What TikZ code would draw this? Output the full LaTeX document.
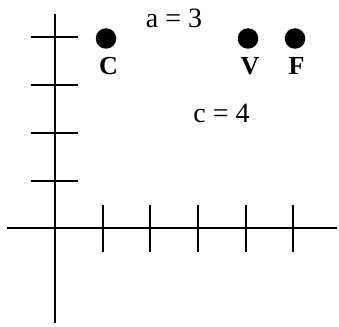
\documentclass[tikz,border=0pt]{standalone}
\usepackage{fontspec}
\setmainfont{Liberation Serif}
\begin{document}
\begin{tikzpicture}[x=1pt,y=-1pt,
  axis/.style={line width=2pt},
  tick/.style={line width=2pt},
  pt/.style={circle,fill=black,inner sep=0pt,minimum size=20.5pt},
  lbl/.style={font=\fontsize{26}{26}\selectfont\bfseries,anchor=base,inner sep=0pt},
  eq/.style={font=\fontsize{28}{28}\selectfont,anchor=base,inner sep=0pt}]
\useasboundingbox (0,0) rectangle (339,326);
% axes
\coordinate (xl) at (7,228);
\coordinate (xr) at (337,228);
\coordinate (yt) at (55,14);
\coordinate (yb) at (55,323);
\draw[axis] (xl) -- (xr);
\draw[axis] (yt) -- (yb);
% ticks on x axis
\foreach \x in {103,150,198,246,293}
  \draw[tick] (\x,205) -- (\x,252);
% ticks on y axis
\foreach \y in {37,85,133,181}
  \draw[tick] (31,\y) -- (78,\y);
% points
\node[pt] (C) at (106,38.5) {};
\node[pt] (V) at (248,38.5) {};
\node[pt] (F) at (295,38.5) {};
\node[lbl] (Cl) at (108.5,75) {C};
\node[lbl] (Vl) at (250,75) {V};
\node[lbl] (Fl) at (296.5,75) {F};
\node[eq] (a) at (174,27.5) {a = 3};
\node[eq] (c) at (221.5,122) {c = 4};
\end{tikzpicture}
\end{document}
